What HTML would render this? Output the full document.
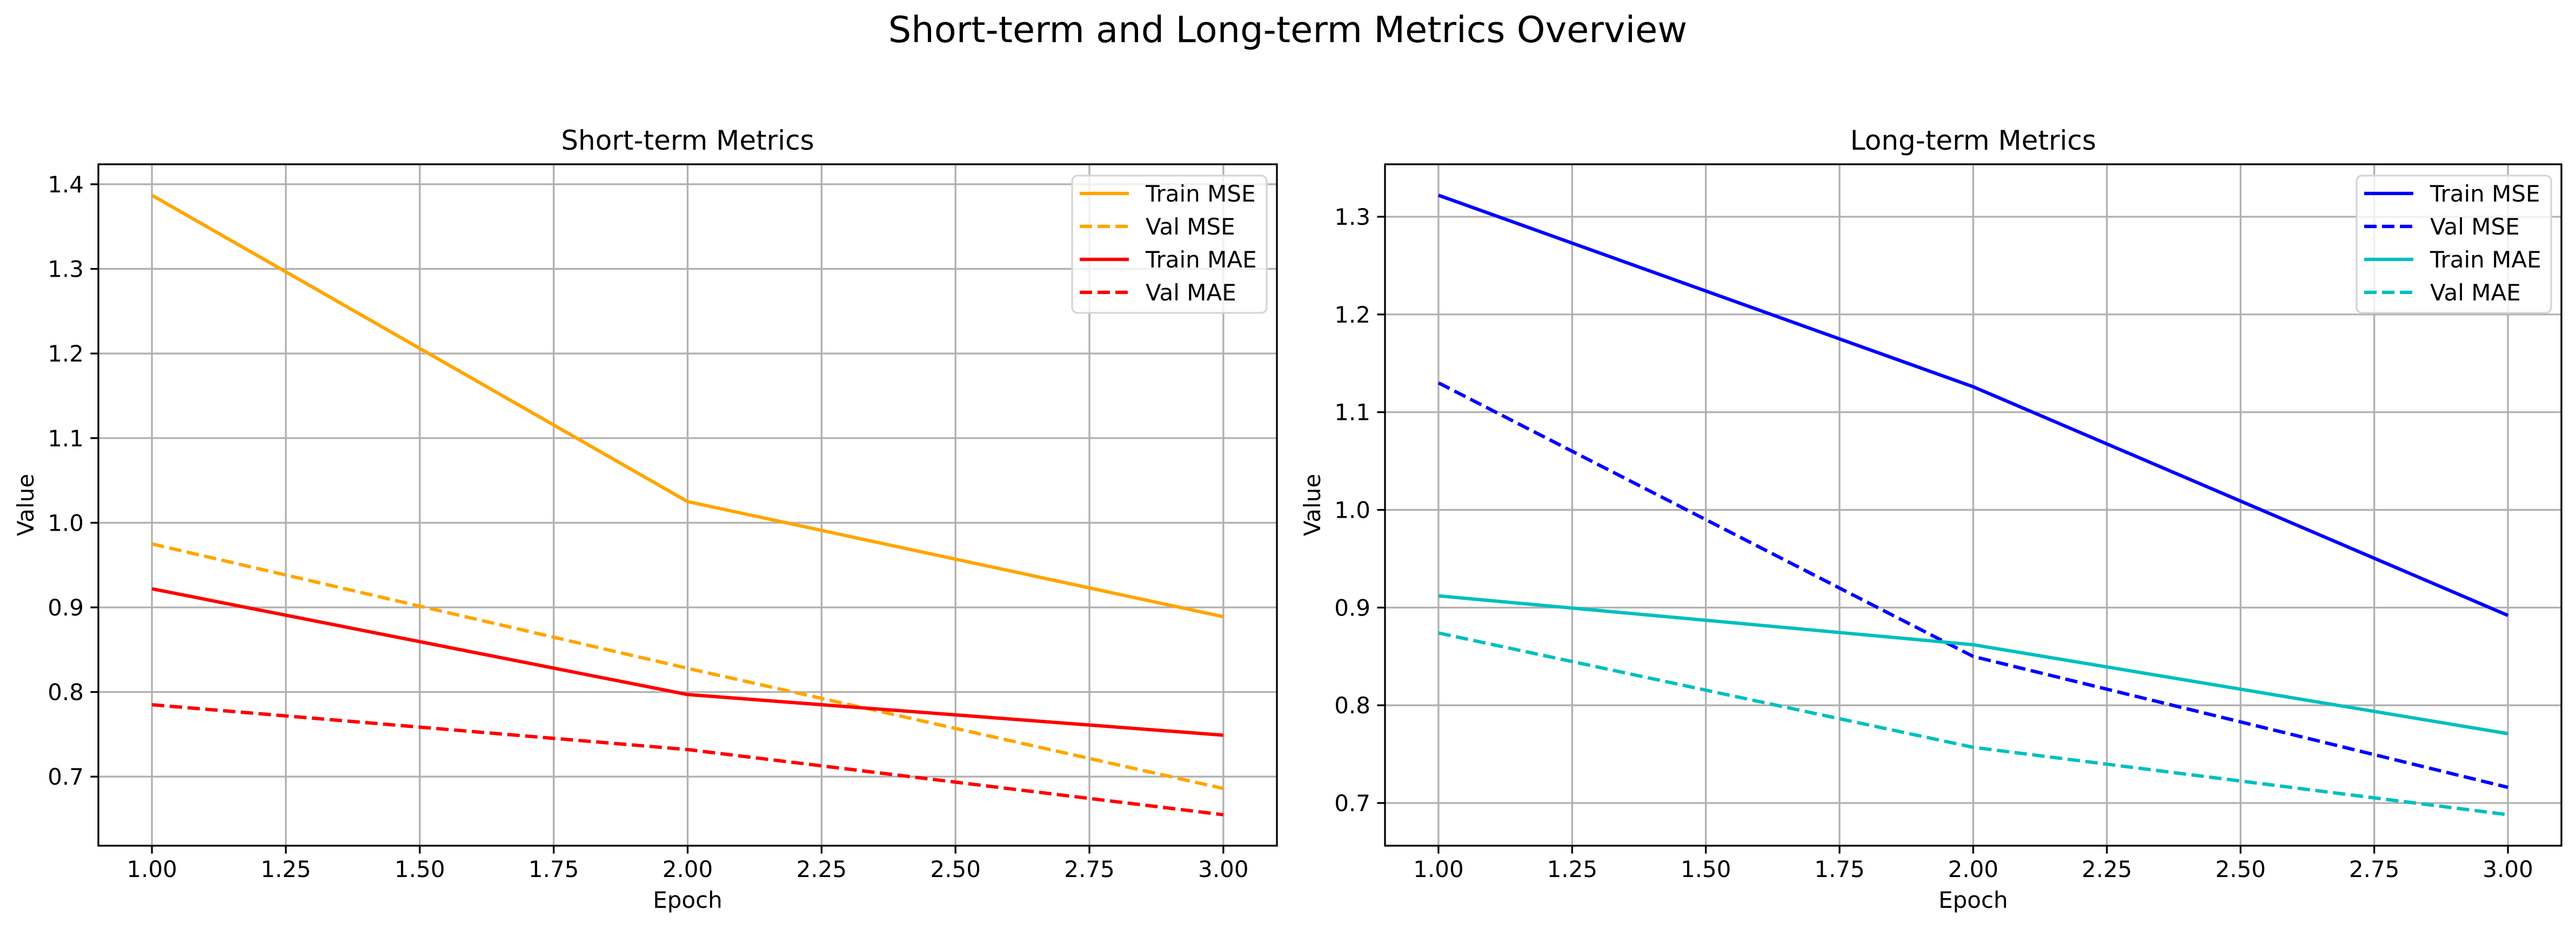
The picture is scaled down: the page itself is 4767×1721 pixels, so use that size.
<!DOCTYPE html>
<html><head><meta charset="utf-8"><style>
html,body{margin:0;padding:0;background:#fff;}
svg{display:block;font-family:"DejaVu Sans","Liberation Sans",sans-serif;}
</style></head><body>
<svg id="fig" width="4767" height="1721" viewBox="0 0 4767 1721" xmlns="http://www.w3.org/2000/svg">
<rect width="4767" height="1721" fill="#fff"/>
<text x="2383" y="78" font-size="67" text-anchor="middle">Short-term and Long-term Metrics Overview</text>
</svg>
<script>
const epochs = [1, 2, 3];
const xTicks = [1.00, 1.25, 1.50, 1.75, 2.00, 2.25, 2.50, 2.75, 3.00];
const shortTrainMSE = [1.387, 1.025, 0.889];
const shortValMSE = [0.975, 0.828, 0.686];
const shortTrainMAE = [0.922, 0.797, 0.749];
const shortValMAE = [0.785, 0.732, 0.655];
const shortYTicks = [0.7, 0.8, 0.9, 1.0, 1.1, 1.2, 1.3, 1.4];
const longTrainMSE = [1.322, 1.126, 0.892];
const longValMSE = [1.130, 0.850, 0.716];
const longTrainMAE = [0.912, 0.862, 0.771];
const longValMAE = [0.874, 0.757, 0.688];
const longYTicks = [0.7, 0.8, 0.9, 1.0, 1.1, 1.2, 1.3];
const seriesLabels = ["Train MSE", "Val MSE", "Train MAE", "Val MAE"];

const NS = "http://www.w3.org/2000/svg";
const svg = document.getElementById('fig');
function mk(tag, attrs, parent) {
  const e = document.createElementNS(NS, tag);
  for (const k in attrs) e.setAttribute(k, attrs[k]);
  (parent || svg).appendChild(e);
  return e;
}

function panel(cfg) {
  const g = mk('g', {});
  
  
  const L = cfg.left, R = cfg.right, T = 304, B = 1565;
  const all = [].concat(...cfg.series.map(s => s.vals));
  let mn = Math.min(...all), mx = Math.max(...all), pad = (mx - mn) * 0.05;
  const y0 = mn - pad, y1 = mx + pad;
  const xs = v => L + (v - 0.9) / 2.2 * (R - L);
  const ys = v => B - (v - y0) / (y1 - y0) * (B - T);
  // grid
  xTicks.forEach(t => {
    const l = mk('line', {x1: xs(t), x2: xs(t), y1: T, y2: B, stroke: '#b0b0b0', 'stroke-width': 3.3}, g);
    
    
    mk('line', {x1: xs(t), x2: xs(t), y1: B, y2: B + 14.6, stroke: '#000', 'stroke-width': 3.3}, g);
    const tx = mk('text', {x: xs(t), y: B + 58, 'font-size': 42, 'text-anchor': 'middle'}, g);
    tx.textContent = t.toFixed(2);
    
    
  });
  cfg.yTicks.forEach(t => {
    const l = mk('line', {x1: L, x2: R, y1: ys(t), y2: ys(t), stroke: '#b0b0b0', 'stroke-width': 3.3}, g);
    
    
    mk('line', {x1: L - 14.6, x2: L, y1: ys(t), y2: ys(t), stroke: '#000', 'stroke-width': 3.3}, g);
    const tx = mk('text', {x: L - 27, y: ys(t) + 15, 'font-size': 42, 'text-anchor': 'end'}, g);
    tx.textContent = t.toFixed(1);
    
    
  });
  // series
  cfg.series.forEach((s, i) => {
    const p = mk('polyline', {points: s.vals.map((v, j) => xs(epochs[j]) + ',' + ys(v)).join(' '),
      fill: 'none', stroke: s.color, 'stroke-width': 6.25, 'stroke-linejoin': 'round'}, g);
    if (s.dash) p.setAttribute('stroke-dasharray', '23 10');
    
    
  });
  // frame
  const fr = mk('rect', {x: L, y: T, width: R - L, height: B - T, fill: 'none', stroke: '#000', 'stroke-width': 3.3}, g);
  
  
  const title = mk('text', {x: (L + R) / 2, y: 277, 'font-size': 50, 'text-anchor': 'middle'}, g);
  title.textContent = cfg.title;
  
  
  const xl = mk('text', {x: (L + R) / 2, y: 1680, 'font-size': 42, 'text-anchor': 'middle'}, g);
  xl.textContent = 'Epoch';
  
  
  const yl = mk('text', {x: 0, y: 0, 'font-size': 42, 'text-anchor': 'middle', transform: `translate(${L - 120},${(T + B) / 2}) rotate(-90)`}, g);
  yl.textContent = 'Value';
  
  
  // legend
  const lg = mk('g', {}, g);
  
  
  const lx = R - 379;
  mk('rect', {x: lx, y: 325, width: 360, height: 254, rx: 10, fill: 'rgba(255,255,255,0.8)', stroke: '#d5d5d5', 'stroke-width': 3.3}, lg);
  cfg.series.forEach((s, i) => {
    const yy = 358 + i * 61;
    const hl = mk('line', {x1: lx + 14, x2: lx + 105, y1: yy, y2: yy, stroke: s.color, 'stroke-width': 6.25}, lg);
    if (s.dash) hl.setAttribute('stroke-dasharray', '23 10');
    const t = mk('text', {x: lx + 136, y: yy + 15, 'font-size': 42}, lg);
    t.textContent = seriesLabels[i];
    
    
  });
}

panel({name: 'short-term-panel', title: 'Short-term Metrics', left: 182, right: 2363, yTicks: shortYTicks,
  series: [{vals: shortTrainMSE, color: '#ffa500'}, {vals: shortValMSE, color: '#ffa500', dash: true},
           {vals: shortTrainMAE, color: '#ff0000'}, {vals: shortValMAE, color: '#ff0000', dash: true}]});
panel({name: 'long-term-panel', title: 'Long-term Metrics', left: 2563, right: 4740, yTicks: longYTicks,
  series: [{vals: longTrainMSE, color: '#0000ff'}, {vals: longValMSE, color: '#0000ff', dash: true},
           {vals: longTrainMAE, color: '#00bfbf'}, {vals: longValMAE, color: '#00bfbf', dash: true}]});
</script>
</body></html>
